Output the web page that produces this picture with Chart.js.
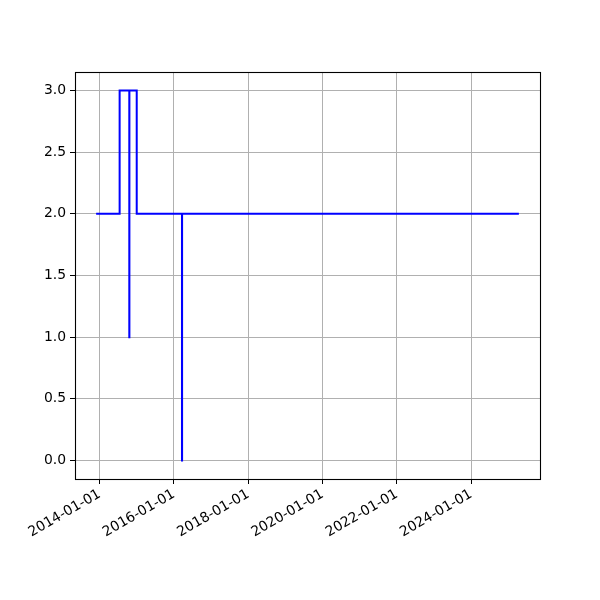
<!DOCTYPE html>
<html>
<head>
<meta charset="utf-8">
<script src="https://cdn.jsdelivr.net/npm/chart.js@4/dist/chart.umd.min.js"></script>
<style>
html,body{margin:0;padding:0;background:#fff;}
#wrap{width:600px;height:600px;}
</style>
</head>
<body>
<div id="wrap"><canvas id="c" width="600" height="600"></canvas></div>
<script>
// Step data (value holds from each date until the next date)
const dates = ['2013-11-27','2014-07-16','2014-10-19','2014-10-20','2014-12-31','2016-03-20','2016-03-21','2025-04-14'];
const values = [2, 3, 1, 3, 2, 0, 2, 2];
const xTickLabels = ['2014-01-01','2016-01-01','2018-01-01','2020-01-01','2022-01-01','2024-01-01'];
const yTickValues = [0, 0.5, 1, 1.5, 2, 2.5, 3];

const ts = d => Date.parse(d + 'T00:00:00Z');
const points = dates.map((d, i) => ({x: ts(d), y: values[i]}));
const xFirst = ts(dates[0]), xLast = ts(dates[dates.length - 1]);
const xSpan = xLast - xFirst;
const yMin = Math.min(...values), yMax = Math.max(...values);
const ySpan = yMax - yMin;

const font = {family: 'DejaVu Sans', size: 13.9};

const frame = {
  id: 'frame',
  afterDraw(chart) {
    const a = chart.chartArea, ctx = chart.ctx;
    ctx.save();
    ctx.strokeStyle = '#000';
    ctx.lineWidth = 1.1;
    ctx.strokeRect(Math.round(a.left) + 0.5, Math.round(a.top) + 0.5, Math.round(a.right - a.left), Math.round(a.bottom - a.top));
    ctx.restore();
  }
};

new Chart(document.getElementById('c'), {
  type: 'line',
  data: {
    datasets: [{
      data: points,
      stepped: 'before',
      borderColor: '#0000ff',
      borderWidth: 2,
      pointRadius: 0,
      fill: false
    }]
  },
  options: {
    responsive: false,
    animation: false,
    layout: {padding: {left: 0, right: 60, top: 72, bottom: 0}},
    plugins: {legend: {display: false}, tooltip: {enabled: false}},
    scales: {
      x: {
        type: 'linear',
        min: xFirst - 0.05 * xSpan,
        max: xLast + 0.05 * xSpan,
        afterBuildTicks(s) { s.ticks = xTickLabels.map(l => ({value: ts(l)})); },
        afterFit(s) { s.height = 121; },
        grid: {color: '#b0b0b0', lineWidth: 1, tickColor: '#000', tickLength: 5, drawOnChartArea: true},
        border: {color: '#000', width: 1},
        ticks: {
          color: '#000', font: font, padding: 2,
          minRotation: 30, maxRotation: 30, autoSkip: false,
          callback: v => new Date(v).toISOString().slice(0, 10)
        }
      },
      y: {
        type: 'linear',
        min: yMin - 0.05 * ySpan,
        max: yMax + 0.05 * ySpan,
        afterBuildTicks(s) { s.ticks = yTickValues.map(v => ({value: v})); },
        afterFit(s) { s.width = 75; },
        grid: {color: '#b0b0b0', lineWidth: 1, tickColor: '#000', tickLength: 5},
        border: {color: '#000', width: 1},
        ticks: {color: '#000', font: font, padding: 4, callback: v => Number(v).toFixed(1)}
      }
    }
  },
  plugins: [frame]
});
</script>
</body>
</html>
